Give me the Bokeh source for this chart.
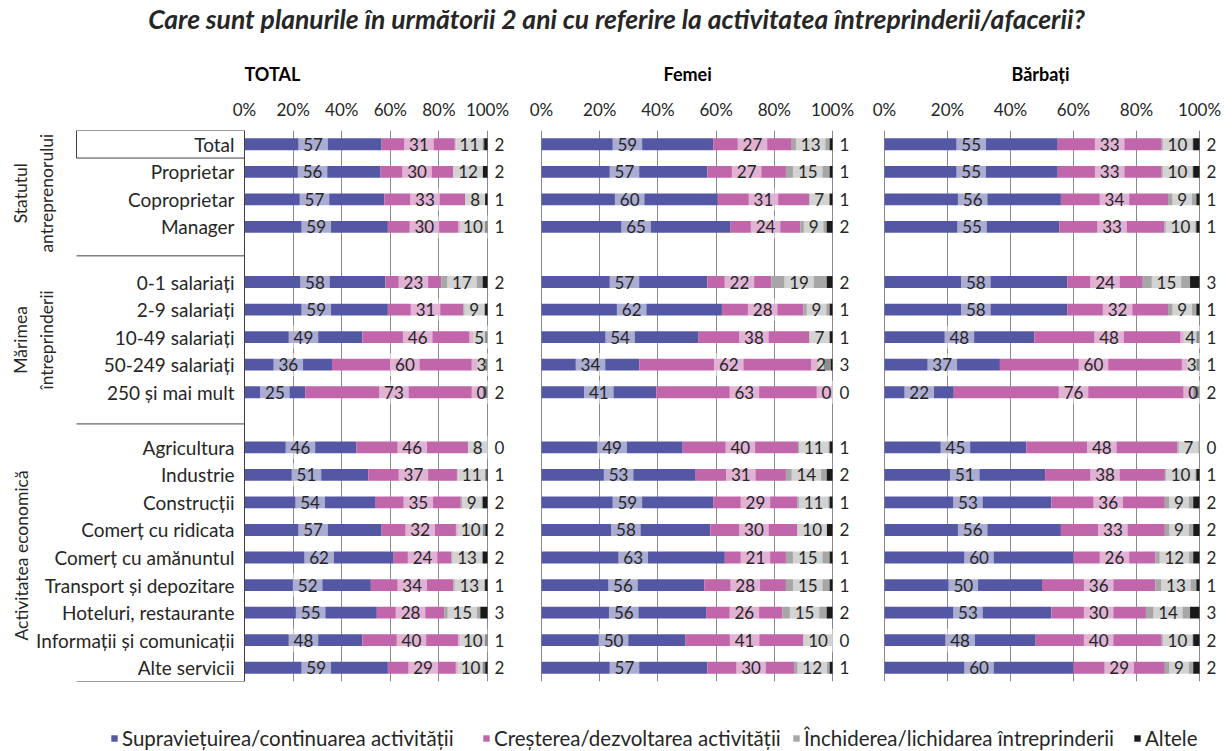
from bokeh.plotting import figure
from bokeh.models import ColumnDataSource, Range1d, FixedTicker, Title, Legend, LegendItem
from bokeh.layouts import column, row
from bokeh.embed import file_html
from bokeh.resources import INLINE
from bokeh.core.properties import value

# ---------------- data ----------------
TITLE = "Care sunt planurile în următorii 2 ani cu referire la activitatea întreprinderii/afacerii?"
PANELS = ["TOTAL", "Femei", "Bărbați"]
SERIES = ["Supraviețuirea/continuarea activității", "Creșterea/dezvoltarea activității",
          "Închiderea/lichidarea întreprinderii", "Altele"]
GROUPS = ["Statutul\nantreprenorului", "Mărimea\nîntreprinderii", "Activitatea economică"]
status_cats = ["Total", "Proprietar", "Coproprietar", "Manager"]
size_cats = ["0-1 salariați", "2-9 salariați", "10-49 salariați", "50-249 salariați", "250 și mai mult"]
activity_cats = ["Agricultura", "Industrie", "Construcții", "Comerț cu ridicata", "Comerț cu amănuntul",
                 "Transport și depozitare", "Hoteluri, restaurante", "Informații și comunicații", "Alte servicii"]
TICKS = [0, 20, 40, 60, 80, 100]
TICK_LABELS = ["0%", "20%", "40%", "60%", "80%", "100%"]

total_surv = [57, 56, 57, 59, 58, 59, 49, 36, 25, 46, 51, 54, 57, 62, 52, 55, 48, 59]
total_grow = [31, 30, 33, 30, 23, 31, 46, 60, 73, 46, 37, 35, 32, 24, 34, 28, 40, 29]
total_close = [11, 12, 8, 10, 17, 9, 5, 3, 0, 8, 11, 9, 10, 13, 13, 15, 10, 10]
total_other = [2, 2, 1, 1, 2, 1, 1, 1, 2, 0, 1, 2, 2, 2, 1, 3, 1, 2]

femei_surv = [59, 57, 60, 65, 57, 62, 54, 34, 41, 49, 53, 59, 58, 63, 56, 56, 50, 57]
femei_grow = [27, 27, 31, 24, 22, 28, 38, 62, 63, 40, 31, 29, 30, 21, 28, 26, 41, 30]
femei_close = [13, 15, 7, 9, 19, 9, 7, 2, 0, 11, 14, 11, 10, 15, 15, 15, 10, 12]
femei_other = [1, 1, 1, 2, 2, 1, 1, 3, 0, 1, 2, 1, 2, 1, 1, 2, 0, 1]

barbati_surv = [55, 55, 56, 55, 58, 58, 48, 37, 22, 45, 51, 53, 56, 60, 50, 53, 48, 60]
barbati_grow = [33, 33, 34, 33, 24, 32, 48, 60, 76, 48, 38, 36, 33, 26, 36, 30, 40, 29]
barbati_close = [10, 10, 9, 10, 15, 9, 4, 3, 0, 7, 10, 9, 9, 12, 13, 14, 10, 9]
barbati_other = [2, 2, 1, 1, 3, 1, 1, 1, 2, 0, 1, 2, 2, 2, 1, 3, 2, 2]

# ---------------- style ----------------
COLORS = ["#5458A4", "#C166AA", "#A6A6A6", "#1A1A1A"]
TXT = "#262626"
FONT = "Lato"
GRID = "#8A8A8A"
LINE = "#404040"

W = 1228
TITLE_H = 50
FRAME_H = 552
TOP_B = 79
BOT_B = 30
LEG_H = 39

# row positions: groups separated by one empty row
ypos = []
cats = []
r = 0
for g in [status_cats, size_cats, activity_cats]:
    for c in g:
        cats.append(c)
        ypos.append(r)
        r += 1
    r += 1
NROWS = r - 1  # 20 rows
Y0, Y1 = -0.5, NROWS - 0.5
SEP = [Y0, 0.5, 4.05, 10.15, Y1]


def build_source(surv, grow, close, other, ppu):
    data = dict(y=ypos)
    lefts = [0.0] * len(ypos)
    inner_max = 100 - 6 / ppu  # keep in-bar labels inside the plot area
    for k, vals in enumerate([surv, grow, close, other]):
        rights = []
        for i in range(len(ypos)):
            tot = surv[i] + grow[i] + close[i] + other[i]
            rights.append(lefts[i] + vals[i] / tot * 100.0)
        data[f"l{k}"] = lefts
        data[f"r{k}"] = rights
        data[f"m{k}"] = [min((a + b) / 2, inner_max) for a, b in zip(lefts, rights)]
        data[f"t{k}"] = [str(v) for v in vals]
        lefts = rights
    data["xo"] = [100] * len(ypos)
    return ColumnDataSource(data)


def panel(name, vals, fig_left, frame_left, frame_right, zero_px, ppu, title_left, with_labels=False):
    width = frame_right - fig_left
    x0 = (frame_left - zero_px) / ppu
    x1 = (frame_right - zero_px) / ppu
    p = figure(width=width, height=TOP_B + FRAME_H + BOT_B, output_backend="svg", toolbar_location=None,
               x_range=Range1d(x0, x1), y_range=Range1d(Y1, Y0),
               x_axis_location="above", y_axis_location=None,
               min_border_left=frame_left - fig_left, min_border_right=0,
               min_border_top=TOP_B, min_border_bottom=BOT_B)
    p.outline_line_color = None
    p.background_fill_color = None
    p.border_fill_color = None
    p.ygrid.visible = False
    p.xgrid.ticker = FixedTicker(ticks=TICKS)
    p.xgrid.grid_line_color = GRID
    ax = p.xaxis[0]
    ax.ticker = FixedTicker(ticks=TICKS)
    ax.major_label_overrides = {t: l for t, l in zip(TICKS, TICK_LABELS)}
    ax.axis_line_color = None
    ax.major_tick_line_color = None
    ax.minor_tick_line_color = None
    ax.major_tick_out = 0
    ax.major_tick_in = 0
    ax.minor_tick_out = 0
    ax.minor_tick_in = 0
    ax.major_label_standoff = 11
    ax.major_label_text_font = FONT
    ax.major_label_text_font_size = "17px"
    ax.major_label_text_color = TXT

    p.title = Title(text=name, align="left", offset=title_left - frame_left, text_font=FONT,
                    text_font_size="18px", text_font_style="bold", text_color="#000000", standoff=21)

    src = build_source(*vals, ppu)
    for k in range(4):
        p.hbar(y="y", left=f"l{k}", right=f"r{k}", height=0.43, source=src,
               fill_color=COLORS[k], line_color=None)
    for k in range(3):
        p.text(x=f"m{k}", y="y", text=f"t{k}", source=src, text_align="center", text_baseline="middle",
               text_font=value(FONT), text_font_size="17px", text_color=TXT,
               background_fill_color="white", background_fill_alpha=0.5, padding=5)
    p.text(x="xo", y="y", text="t3", source=src, text_align="left", text_baseline="middle", x_offset=7,
           text_font=value(FONT), text_font_size="17px", text_color=TXT)

    if with_labels:
        def px(v):
            return (v - zero_px) / ppu
        # category labels
        p.text(x=[px(234)] * len(cats), y=ypos, text=cats, text_align="right", text_baseline="middle",
               text_font=value(FONT), text_font_size="19px", text_color=TXT)
        # table lines
        p.segment(x0=[px(76)] * len(SEP), x1=[0] * len(SEP), y0=SEP, y1=SEP, line_color=LINE, line_width=1)
        p.segment(x0=[px(76), 0], x1=[px(76), 0], y0=[Y0, Y0], y1=[0.5, Y1], line_color=LINE, line_width=1)
        # group labels (rotated)
        gy = [(SEP[0] + SEP[2]) / 2, (SEP[2] + SEP[3]) / 2, (SEP[3] + SEP[4]) / 2 + 0.1]
        gx = [px(33), px(33), px(21)]
        p.text(x=gx, y=gy, text=GROUPS, angle=1.5707963, text_align="center",
               text_baseline="middle", text_font=value(FONT), text_font_size="17.5px", text_color=TXT,
               text_line_height=1.25)
    return p


p1 = panel(PANELS[0], (total_surv, total_grow, total_close, total_other), 0, 10, 515, 244, 2.43, 244, True)
p2 = panel(PANELS[1], (femei_surv, femei_grow, femei_close, femei_other), 515, 540, 865, 541, 2.91, 663)
p3 = panel(PANELS[2], (barbati_surv, barbati_grow, barbati_close, barbati_other), 865, 882, W, 884, 3.15, 1011)

# title figure
tf = figure(width=W, height=TITLE_H, output_backend="svg", toolbar_location=None,
            x_range=Range1d(0, W), y_range=Range1d(0, TITLE_H), x_axis_location=None, y_axis_location=None,
            min_border=0)
tf.outline_line_color = None
tf.grid.visible = False
tf.text(x=[616], y=[TITLE_H - 18], text=[TITLE], text_align="center", text_baseline="middle",
        text_font=value(FONT), text_font_size="26.5px", text_font_style="bold italic", text_color=TXT)

# legend figure
lf = figure(width=W, height=LEG_H, output_backend="svg", toolbar_location=None,
            x_range=Range1d(0, 1), y_range=Range1d(0, 1), x_axis_location=None, y_axis_location=None,
            min_border=0)
lf.outline_line_color = None
lf.grid.visible = False
LEGEND_X = [110, 482, 792, 1133]
for name, col, xl in zip(SERIES, COLORS, LEGEND_X):
    # zero-size bar: only supplies the legend swatch
    rr = lf.hbar(y=[0.5], left=[0], right=[0], height=0, fill_color=col, line_color=None)
    lg = Legend(items=[LegendItem(label=name, renderers=[rr])], location=(xl, 0), orientation="horizontal",
                glyph_width=8, glyph_height=8, label_standoff=4, padding=0, margin=0,
                border_line_color=None, background_fill_alpha=0, label_text_font=FONT,
                label_text_font_size="20.5px", label_text_color=TXT, label_height=20)
    lf.add_layout(lg)

layout = column(tf, row(p1, p2, p3), lf)
layout.spacing = 0
open("out.html", "w").write(file_html(layout, INLINE))
